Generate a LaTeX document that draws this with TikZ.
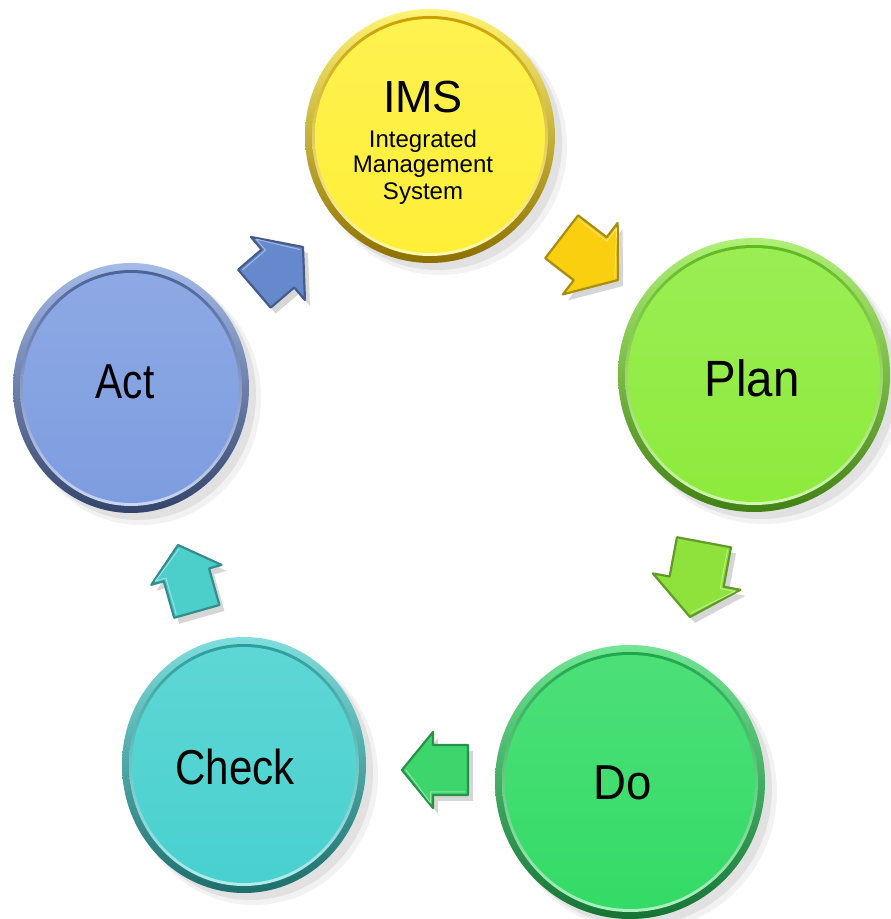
\documentclass[tikz,border=0pt]{standalone}
\usepackage{fontspec}
\setmainfont{Liberation Sans}
\definecolor{imsC}{HTML}{FFEF38}
\definecolor{planC}{HTML}{8DEB3C}
\definecolor{doC}{HTML}{34DB66}
\definecolor{checkC}{HTML}{48D1CF}
\definecolor{actC}{HTML}{7E9DE0}
\definecolor{imsR}{HTML}{C9A000}
\definecolor{planR}{HTML}{5FB81E}
\definecolor{doR}{HTML}{1FA64A}
\definecolor{checkR}{HTML}{2A9E9C}
\definecolor{actR}{HTML}{4A6299}
\definecolor{arrBlue}{HTML}{6688CC}
\definecolor{arrYellow}{HTML}{F9CF10}
\definecolor{arrLime}{HTML}{8FE23C}
\definecolor{arrGreen}{HTML}{3DD66C}
\definecolor{arrTeal}{HTML}{4CCFCB}
% disc: x, y, rx, ry, face colour, rim colour
\newcommand{\bevdisc}[6]{%
  \fill[black,opacity=0.05] (#1+10,#2-10) ellipse[x radius=#3+2,y radius=#4+2];
  \fill[black,opacity=0.07] (#1+7,#2-7) ellipse[x radius=#3,y radius=#4];
  \shade[shading angle=45, top color=#5!70!white, bottom color=#6!70!black] (#1,#2) ellipse[x radius=#3,y radius=#4];
  \shade[shading angle=45, top color=#6, bottom color=#5!40!white] (#1,#2) ellipse[x radius=#3-7,y radius=#4-7];
  \shade[top color=#5!88!white, bottom color=#5] (#1,#2) ellipse[x radius=#3-10,y radius=#4-10];
}
% block arrow: tip x, tip y, angle, length, head length, head width, shaft width, colour, name
\newcommand{\blockarr}[9]{%
  \begin{scope}[shift={(#1+5,#2-6)}, rotate=#3]
    \fill[black,opacity=0.16] (0,0) -- (-#5,#6/2) -- (-#5,#7/2) -- (-#4,#7/2) -- (-#4,-#7/2) -- (-#5,-#7/2) -- (-#5,-#6/2) -- cycle;
  \end{scope}
  \begin{scope}[shift={(#1,#2)}, rotate=#3]
    \filldraw[fill=#8, draw=#8!68!black, line width=2.2pt, line join=round] (0,0) -- (-#5,#6/2) -- (-#5,#7/2) -- (-#4,#7/2) -- (-#4,-#7/2) -- (-#5,-#7/2) -- (-#5,-#6/2) -- cycle;
    \draw[#8!60!white, line width=1pt, line join=round] (-4,0) -- (-#5+2.5,#6/2-5) -- (-#5+2.5,#7/2-3) -- (-#4+3,#7/2-3);
  \end{scope}
  \coordinate (#9) at (#1,#2);
}
\tikzset{
  lbl/.style={text=black, inner sep=0pt},
}
\begin{document}
\begin{tikzpicture}[x=1pt,y=1pt]
\useasboundingbox (0,0) rectangle (891,919);
% discs
\bevdisc{430}{783}{125}{127}{imsC}{imsR}
\bevdisc{754}{544}{136}{137}{planC}{planR}
\bevdisc{630}{137}{135}{137}{doC}{doR}
\bevdisc{244}{154}{122}{128}{checkC}{checkR}
\bevdisc{131}{531}{118}{125}{actC}{actR}
% arrows
\blockarr{303}{672}{40.6}{64}{33}{83}{50}{arrBlue}{a1}
\blockarr{618}{639}{-37.5}{71}{35}{90}{54}{arrYellow}{a2}
\blockarr{690}{302}{-100.6}{76}{36}{89}{55}{arrLime}{a3}
\blockarr{402}{149}{180}{66}{31}{76}{50}{arrGreen}{a4}
\blockarr{178}{374}{105.8}{69}{31}{73}{47}{arrTeal}{a5}
% labels
\node[lbl, anchor=base, font=\fontsize{45}{45}\selectfont] (ims) at (423,806) {IMS};
\node[lbl, anchor=base, font=\fontsize{24}{24}\selectfont] (ims1) at (423,771) {Integrated};
\node[lbl, anchor=base, font=\fontsize{24}{24}\selectfont] (ims2) at (423,746) {Management};
\node[lbl, anchor=base, font=\fontsize{24}{24}\selectfont] (ims3) at (423,719) {System};
\node[lbl, font=\fontsize{51}{51}\selectfont, xscale=0.93] (plan) at (752,541) {Plan};
\node[lbl, font=\fontsize{49}{49}\selectfont, xscale=0.93] (do) at (623,136) {Do};
\node[lbl, font=\fontsize{49}{49}\selectfont, xscale=0.86] (check) at (235,152) {Check};
\node[lbl, font=\fontsize{49}{49}\selectfont, xscale=0.83] (act) at (125,537) {Act};
\end{tikzpicture}
\end{document}
